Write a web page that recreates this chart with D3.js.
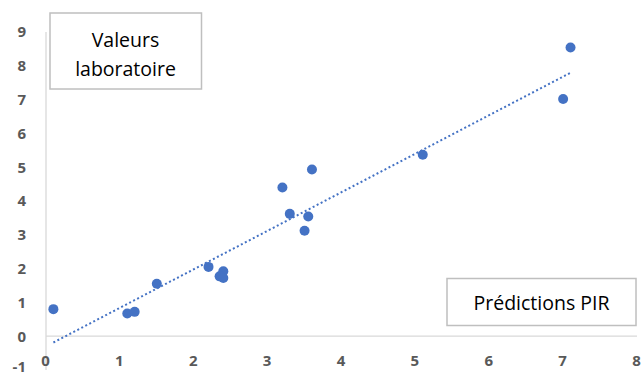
<!DOCTYPE html>
<html><head><meta charset="utf-8">
<script src="https://cdn.jsdelivr.net/npm/d3@7"></script>
<style>body{margin:0;background:#fff}svg{display:block}</style>
</head><body>
<script>
const predictionsPIR = [0.1,1.1,1.2,1.5,2.2,2.4,2.35,2.4,3.2,3.6,3.3,3.55,3.5,5.1,7.1,7.0];
const valeursLabo   = [0.8,0.67,0.72,1.55,2.05,1.92,1.77,1.72,4.4,4.93,3.62,3.54,3.12,5.37,8.54,7.02];
const xTicks = [0,1,2,3,4,5,6,7,8];
const yTicks = [-1,0,1,2,3,4,5,6,7,8,9];
const yTitle = ["Valeurs","laboratoire"];
const xTitle = "Prédictions PIR";

const W=643,H=376;
const svg=d3.select("body").append("svg").attr("width",W).attr("height",H);
const x=d3.scaleLinear().domain([0,8]).range([46,637]);
const y=d3.scaleLinear().domain([-1,9]).range([370,32]);
const font="'Open Sans', 'Noto Sans', sans-serif";

// axes lines
svg.append("line").attr("x1",x(0)).attr("x2",x(0)).attr("y1",y(-1)).attr("y2",y(9))
  .attr("stroke","#d9d9d9").attr("stroke-width",1.3);
svg.append("line").attr("x1",x(0)).attr("x2",x(8)).attr("y1",y(0)).attr("y2",y(0))
  .attr("stroke","#d9d9d9").attr("stroke-width",1.3);

// y tick labels
svg.append("g").selectAll("text").data(yTicks).join("text")
  .attr("x",26).attr("y",d=>d===-1?y(d)-3:y(d)).attr("dy","0.36em").attr("text-anchor","end")
  .attr("font-family",font).attr("font-weight","bold").attr("font-size",15).attr("fill","#595959")
  .text(d=>d);
// x tick labels
svg.append("g").selectAll("text").data(xTicks).join("text")
  .attr("x",d=>x(d)-0.5).attr("y",361).attr("dy","0.36em").attr("text-anchor","middle")
  .attr("font-family",font).attr("font-weight","bold").attr("font-size",15).attr("fill","#595959")
  .text(d=>d);

// regression trendline
const n=predictionsPIR.length;
const mx=d3.mean(predictionsPIR), my=d3.mean(valeursLabo);
let sxy=0,sxx=0;
for(let i=0;i<n;i++){sxy+=(predictionsPIR[i]-mx)*(valeursLabo[i]-my);sxx+=(predictionsPIR[i]-mx)**2;}
const b=sxy/sxx,a=my-b*mx;
const [x0,x1]=d3.extent(predictionsPIR);
svg.append("line").attr("x1",x(x0)).attr("y1",y(a+b*x0)).attr("x2",x(x1)).attr("y2",y(a+b*x1))
  .attr("stroke","#4472C4").attr("stroke-width",2).attr("stroke-dasharray","2,2.5");

// points
svg.append("g").selectAll("circle").data(predictionsPIR.map((d,i)=>[d,valeursLabo[i]])).join("circle")
  .attr("cx",d=>x(d[0])).attr("cy",d=>y(d[1])).attr("r",5).attr("fill","#4472C4");

// title boxes
const b1=svg.append("g");
b1.append("rect").attr("x",50).attr("y",13).attr("width",151.5).attr("height",76)
  .attr("fill","#fff").attr("stroke","#bfbfbf").attr("stroke-width",1.5);
b1.selectAll("text").data(yTitle).join("text").attr("x",125.5).attr("y",(d,i)=>40+i*29).attr("dy","0.35em")
  .attr("text-anchor","middle").attr("font-family",font).attr("font-size",19.5).attr("fill","#000").text(d=>d);
const b2=svg.append("g");
b2.append("rect").attr("x",447).attr("y",278.5).attr("width",189).attr("height",47)
  .attr("fill","#fff").attr("stroke","#bfbfbf").attr("stroke-width",1.5);
b2.append("text").attr("x",541.5).attr("y",303).attr("dy","0.35em").attr("text-anchor","middle")
  .attr("font-family",font).attr("font-size",19.5).attr("fill","#000").text(xTitle);
</script>
</body></html>
